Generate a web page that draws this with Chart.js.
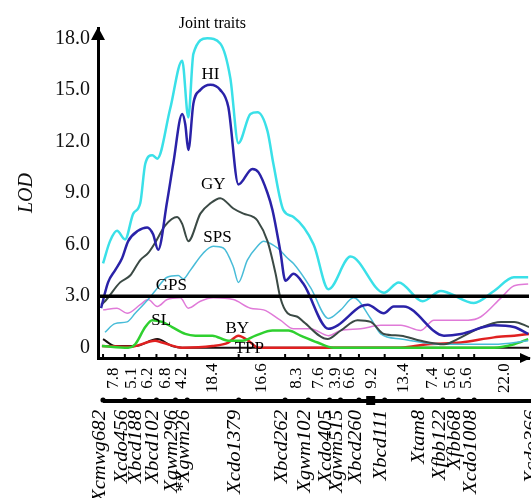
<!DOCTYPE html>
<html>
<head>
<meta charset="utf-8">
<script src="https://cdn.jsdelivr.net/npm/chart.js@4/dist/chart.umd.min.js"></script>
<style>html,body{margin:0;padding:0;background:#fff;}</style>
</head>
<body>
<canvas id="lod" width="531" height="498"></canvas>
<script>
// LOD profiles, x = cM from the first marker
const jointTraits = [[0,4.9],[2.5,6.2],[5.0,6.8],[7.9,6.3],[10.8,7.8],[13.3,8.4],[15.1,10.7],[17.6,11.2],[19.4,11.0],[24.0,13.9],[28.3,16.7],[30.5,13.4],[32.3,17.1],[37.3,18.0],[41.9,17.7],[45.5,15.7],[48.4,11.9],[52.7,13.6],[55.2,13.7],[58.8,12.6],[60.9,10.7],[64.5,8.0],[68.1,7.6],[75.3,6.0],[80.6,3.4],[88.5,5.3],[100.4,3.2],[105.7,3.8],[114.3,2.7],[120.8,3.3],[123.3,3.2],[132.6,2.6],[139.8,3.3],[146.9,4.1],[152,4.1]];
const hi = [[-0.7,2.3],[1.8,3.8],[4.3,4.5],[6.8,5.2],[9.0,6.2],[12.5,6.8],[15.8,7.0],[17.9,6.6],[19.7,5.7],[22.9,8.5],[25.1,10.7],[28.3,13.6],[29.4,13.0],[30.5,11.5],[32.3,14.2],[34.8,15.0],[38.4,15.3],[41.9,15.0],[44.8,14.0],[48.4,9.5],[53.4,10.4],[55.6,10.2],[58.8,9.0],[60.6,8.0],[63.4,5.6],[65.2,3.9],[68.1,4.3],[71.7,3.7],[80.6,1.1],[83.9,1.3],[92.1,2.4],[94.6,2.5],[100.4,2.0],[103.9,2.4],[107.5,2.4],[121.9,0.7],[128.0,0.8],[139.8,1.3],[146.9,1.2],[152,0.8]];
const gy = [[-0.7,2.5],[0.7,2.7],[6.1,3.8],[9.7,4.2],[13.3,5.1],[16.1,5.5],[18.6,6.1],[22.2,7.1],[26.5,7.6],[28.3,7.2],[30.5,6.2],[34.8,7.8],[38.4,8.4],[41.9,8.7],[46.6,8.1],[50.2,7.8],[53.8,7.6],[55.2,7.4],[58.8,6.2],[61.7,4.3],[63.4,2.9],[66.0,2.0],[69.5,1.8],[71.7,1.5],[80.3,0.5],[85.0,1.0],[91.0,1.6],[95.7,1.5],[100.4,0.8],[106.5,0.7],[113.6,0.4],[121.9,0.2],[128.0,0.6],[134.1,1.1],[142.3,1.5],[147.0,1.5],[152.3,1.2]];
const sps = [[0.7,0.9],[4.3,1.4],[8.6,1.5],[11.5,2.0],[16.1,2.8],[18.6,3.3],[22.9,4.1],[26.9,4.2],[28.7,4.0],[31.2,4.5],[35.8,5.5],[39.4,5.9],[43.0,5.8],[46.6,4.7],[48.4,3.8],[51.6,5.1],[55.2,5.9],[57.4,6.2],[62.4,5.8],[66.0,5.2],[68.1,4.9],[74.2,3.5],[80.6,1.7],[85.0,2.2],[89.6,2.9],[95.7,1.7],[99.3,0.8],[106.5,0.5],[120.8,0.2],[139.8,0.2],[152,0.4]];
const gps = [[0,2.2],[5.0,2.3],[8.6,2.0],[13.3,2.5],[16.1,2.8],[19.4,2.4],[22.9,2.8],[27.6,2.9],[30.5,2.3],[34.8,2.7],[39.4,2.9],[46.6,2.8],[52.7,2.3],[57.4,2.2],[63.4,1.6],[68.1,1.1],[74.2,1.1],[80.6,0.7],[85.0,1.0],[92.1,1.1],[99.3,1.3],[106.5,1.3],[113.6,1.0],[118.3,1.6],[130.5,1.6],[135.1,1.8],[142.3,2.9],[147.0,3.6],[152,3.7]];
const sl = [[-0.4,0.1],[9.0,0.0],[11.5,0.2],[15.1,1.2],[17.6,1.6],[21.1,1.5],[24.7,1.2],[29.4,0.8],[33.0,0.7],[39.1,0.7],[44.8,0.4],[49.8,0.4],[54.5,0.7],[60.6,1.0],[66.3,1.0],[70.6,0.7],[76.7,0.3],[82.4,0.0],[139.8,0.0],[147.0,0.2],[152,0.5]];
const by = [[-0.4,0.1],[9.7,0.05],[18.6,0.4],[21.1,0.3],[28.3,0.0],[39.1,0.1],[44.8,0.3],[48.4,0.7],[52.0,0.4],[55.6,0.0],[106.5,0.0],[116.1,0.2],[128.0,0.3],[139.8,0.6],[147.0,0.7],[152.3,0.8]];
const tpp = [[0,0.5],[4.3,0.1],[11.5,0.1],[19.4,0.5],[24.7,0.1],[28.3,0.0],[152.3,0.0]];

const threshold = 3.0;
const yTicks = [0, 3, 6, 9, 12, 15, 18];
const markerNames = ['Xcmwg682','Xcdo456','Xbcd188','Xbcd102','Xgwm296','*Xgwm26','Xcdo1379','Xbcd262','Xgwm102','Xcdo405','Xgwm515','Xbcd260','Xbcd111','Xtam8','Xfbb122','Xfbb68','Xcdo1008','Xcdo366'];
const intervals = [7.8,5.1,6.2,6.8,4.2,18.4,16.6,8.3,7.6,3.9,6.6,9.2,13.4,7.4,5.6,5.6,22.0];
const centromere = 95.7;

const markerPos = [0];
intervals.forEach(d => markerPos.push(markerPos[markerPos.length - 1] + d));

const curveLabels = [
  {text: 'Joint traits', x: 39.1, y: 18.85, size: 16},
  {text: 'HI', x: 38.4, y: 15.9, size: 17},
  {text: 'GY', x: 39.4, y: 9.5, size: 17},
  {text: 'SPS', x: 40.9, y: 6.4, size: 17},
  {text: 'GPS', x: 24.4, y: 3.6, size: 17},
  {text: 'SL', x: 20.8, y: 1.57, size: 17},
  {text: 'BY', x: 48.0, y: 1.1, size: 17},
  {text: 'TPP', x: 52.3, y: -0.06, size: 17}
];

const xMin = -1.8, xMax = 152.3;
const toXY = arr => arr.map(p => ({x: p[0], y: p[1]}));

function ds(label, data, color, width) {
  return {
    label: label, data: toXY(data), borderColor: color, borderWidth: width,
    pointRadius: 0, fill: false, cubicInterpolationMode: 'monotone'
  };
}

const serif = "'Liberation Serif', 'Times New Roman', serif";

const extras = {
  id: 'extras',
  afterDraw(chart) {
    const ctx = chart.ctx, xs = chart.scales.x, ys = chart.scales.y, area = chart.chartArea;
    ctx.save();
    ctx.fillStyle = '#000';
    // y arrow
    ctx.beginPath();
    ctx.moveTo(area.left, area.top - 1);
    ctx.lineTo(area.left - 7, area.top + 12);
    ctx.lineTo(area.left + 7, area.top + 12);
    ctx.closePath();
    ctx.fill();
    // x arrow
    ctx.beginPath();
    ctx.moveTo(531, area.bottom);
    ctx.lineTo(520, area.bottom - 5);
    ctx.lineTo(520, area.bottom + 5);
    ctx.closePath();
    ctx.fill();
    // marker ticks on axis
    markerPos.forEach(m => {
      const px = xs.getPixelForValue(m);
      ctx.fillRect(px - 1, area.bottom - 4, 2, 4);
    });
    // interval labels
    ctx.font = '17px ' + serif;
    ctx.textAlign = 'center';
    ctx.textBaseline = 'middle';
    intervals.forEach((d, i) => {
      const px = xs.getPixelForValue((markerPos[i] + markerPos[i + 1]) / 2);
      ctx.save();
      ctx.translate(px, 378);
      ctx.rotate(-Math.PI / 2);
      ctx.fillText(d.toFixed(1), 0, 0);
      ctx.restore();
    });
    // marker line
    const lineY = 401;
    ctx.fillRect(xs.getPixelForValue(0), lineY - 2, 531, 4);
    markerPos.forEach(m => {
      const px = xs.getPixelForValue(m);
      ctx.beginPath();
      ctx.arc(px, lineY - 1, 2.6, 0, Math.PI * 2);
      ctx.fill();
    });
    const cx = xs.getPixelForValue(centromere);
    ctx.fillRect(cx - 4.5, lineY - 5, 9, 9);
    // marker names
    ctx.font = 'italic 18px ' + serif;
    ctx.textAlign = 'right';
    markerNames.forEach((n, i) => {
      const px = xs.getPixelForValue(markerPos[i]);
      ctx.save();
      ctx.translate(px - 3, 410);
      ctx.rotate(-Math.PI / 2);
      ctx.scale(1.15, 1);
      ctx.fillText(n, 0, 0);
      ctx.restore();
    });
    // curve labels
    ctx.textAlign = 'center';
    curveLabels.forEach(l => {
      ctx.font = l.size + 'px ' + serif;
      ctx.fillText(l.text, xs.getPixelForValue(l.x), ys.getPixelForValue(l.y));
    });
    ctx.restore();
  }
};

new Chart(document.getElementById('lod'), {
  type: 'line',
  data: {
    datasets: [
      ds('Threshold', [[xMin, threshold], [xMax, threshold]], '#000', 3.5),
      ds('Joint traits', jointTraits, '#3ae0e8', 2.5),
      ds('HI', hi, '#2a22a8', 2.5),
      ds('GY', gy, '#3b4a45', 2),
      ds('SPS', sps, '#48bcd8', 1.5),
      ds('GPS', gps, '#e07ad8', 1.5),
      ds('SL', sl, '#2fd02f', 2.5),
      ds('BY', by, '#e02020', 2.5),
      ds('TPP', tpp, '#1a1010', 2)
    ]
  },
  options: {
    responsive: false,
    animation: false,
    layout: {padding: {top: 28, right: 2, left: 0, bottom: 0}},
    plugins: {legend: {display: false}, tooltip: {enabled: false}},
    scales: {
      x: {
        type: 'linear', min: xMin, max: xMax,
        ticks: {display: false},
        grid: {display: true, drawOnChartArea: false, drawTicks: false},
        border: {display: true, width: 3, color: '#000'},
        afterFit(s) { s.height = 140; }
      },
      y: {
        min: -0.6, max: 18.6,
        afterBuildTicks(s) { s.ticks = yTicks.map(v => ({value: v})); },
        ticks: {
          color: '#111', padding: 8,
          font: {family: serif, size: 20},
          callback: v => v === 0 ? '0' : v.toFixed(1)
        },
        grid: {display: true, drawOnChartArea: false, drawTicks: false},
        border: {display: true, width: 3, color: '#000'},
        title: {display: true, text: 'LOD', color: '#111', font: {family: serif, size: 20, style: 'italic'}, padding: {top: 15, bottom: 0}},
        afterFit(s) { s.width = 98; }
      }
    }
  },
  plugins: [extras]
});
</script>
</body>
</html>
